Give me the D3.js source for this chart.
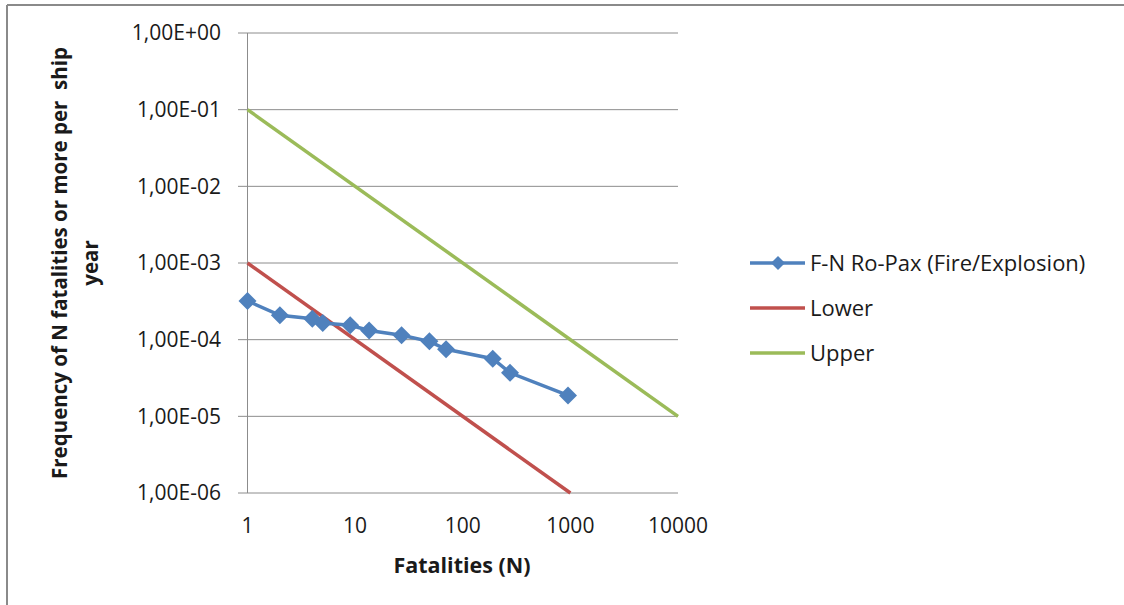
<!DOCTYPE html>
<html><head><meta charset="utf-8">
<script src="https://cdn.jsdelivr.net/npm/d3@7"></script>
<style>body{margin:0;background:#fff}svg{display:block}text{font-family:"Open Sans","Noto Sans",sans-serif;fill:#1a1a1a}</style>
</head><body>
<svg id="c" width="1124" height="605"></svg>
<script>
const fnN =    [1, 2, 4, 5, 9, 13.5, 27, 49, 70, 190, 275, 950];
const fnFreq = [3.2e-4, 2.08e-4, 1.88e-4, 1.65e-4, 1.54e-4, 1.32e-4, 1.14e-4, 9.5e-5, 7.5e-5, 5.65e-5, 3.7e-5, 1.87e-5];
const lowerN = [1, 1000];
const lowerFreq = [1e-3, 1e-6];
const upperN = [1, 10000];
const upperFreq = [1e-1, 1e-5];
const xTicks = [1, 10, 100, 1000, 10000];
const xTickLabels = ["1", "10", "100", "1000", "10000"];
const yTicks = [1, 1e-1, 1e-2, 1e-3, 1e-4, 1e-5, 1e-6];
const yTickLabels = ["1,00E+00", "1,00E-01", "1,00E-02", "1,00E-03", "1,00E-04", "1,00E-05", "1,00E-06"];
const seriesNames = ["F-N Ro-Pax (Fire/Explosion)", "Lower", "Upper"];
const colors = ["#4F81BD", "#C0504D", "#9BBB59"];

const svg = d3.select("#c");
// outer border
svg.append("line").attr("x1",7).attr("x2",1124).attr("y1",5).attr("y2",5).attr("stroke","#8a8a8a").attr("stroke-width",2);
svg.append("line").attr("x1",7).attr("x2",7).attr("y1",5).attr("y2",605).attr("stroke","#8a8a8a").attr("stroke-width",2);

const x = d3.scaleLog().domain([1,10000]).range([247.5,678]);
const y = d3.scaleLog().domain([1e-6,1]).range([493,33]);

// gridlines
svg.append("g").selectAll("line").data(yTicks).join("line")
  .attr("x1",238).attr("x2",678).attr("y1",d=>y(d)).attr("y2",d=>y(d))
  .attr("stroke","#8c8c8c").attr("stroke-width",1);
// y axis line
svg.append("line").attr("x1",x(1)).attr("x2",x(1)).attr("y1",y(1)).attr("y2",y(1e-6)).attr("stroke","#8c8c8c");

// y tick labels
svg.append("g").selectAll("text").data(yTicks).join("text")
  .attr("x",221).attr("y",d=>y(d)).attr("dy","0.35em").attr("text-anchor","end")
  .style("font-size","21px").text((d,i)=>yTickLabels[i]);
// x tick labels
svg.append("g").selectAll("text").data(xTicks).join("text")
  .attr("x",d=>x(d)).attr("y",533).attr("text-anchor","middle")
  .style("font-size","21px").text((d,i)=>xTickLabels[i]);

// axis titles
svg.append("text").attr("x",462).attr("y",573).attr("text-anchor","middle")
  .style("font-size","21.5px").style("font-weight","bold").text("Fatalities (N)");
const yt = svg.append("text").attr("transform","translate(67,263) rotate(-90)").attr("text-anchor","middle")
  .style("font-size","20.5px").style("font-weight","bold");
yt.append("tspan").attr("x",0).attr("y",0).text("Frequency of N fatalities or more per\u00a0\u00a0ship");
yt.append("tspan").attr("x",0).attr("y",31).text("year");

const line = d3.line().x(d=>x(d[0])).y(d=>y(d[1]));
const upper = upperN.map((n,i)=>[n,upperFreq[i]]);
const lower = lowerN.map((n,i)=>[n,lowerFreq[i]]);
const fn = fnN.map((n,i)=>[n,fnFreq[i]]);

svg.append("path").datum(upper).attr("d",line).attr("fill","none").attr("stroke",colors[2]).attr("stroke-width",3.5);
svg.append("path").datum(lower).attr("d",line).attr("fill","none").attr("stroke",colors[1]).attr("stroke-width",3.5);
svg.append("path").datum(fn).attr("d",line).attr("fill","none").attr("stroke",colors[0]).attr("stroke-width",3.5);

const diamond = r => `M0,${-r}L${r},0L0,${r}L${-r},0Z`;
svg.append("g").selectAll("path").data(fn).join("path")
  .attr("transform",d=>`translate(${x(d[0])},${y(d[1])})`)
  .attr("d",diamond(9)).attr("fill",colors[0]);

// legend
const legY = [263, 308, 353];
const lg = svg.append("g");
seriesNames.forEach((name,i)=>{
  lg.append("line").attr("x1",750).attr("x2",805).attr("y1",legY[i]).attr("y2",legY[i])
    .attr("stroke",colors[i]).attr("stroke-width",3.5);
  if(i===0) lg.append("path").attr("transform",`translate(778,${legY[i]})`).attr("d",diamond(7)).attr("fill",colors[0]);
  lg.append("text").attr("x",810).attr("y",legY[i]).attr("dy","0.35em").style("font-size","22px").text(name);
});
</script>
</body></html>
